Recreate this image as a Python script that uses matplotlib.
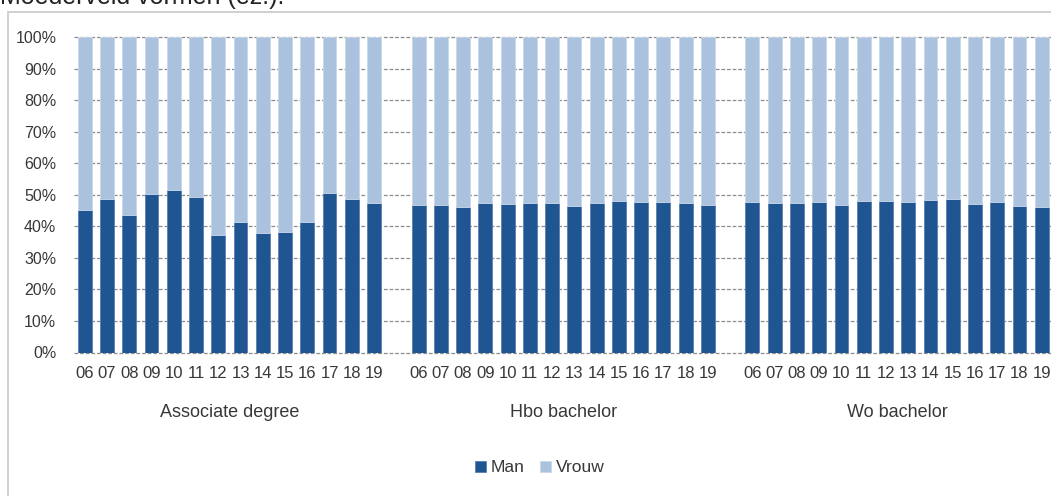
import matplotlib
matplotlib.use("Agg")
import matplotlib.pyplot as plt
import numpy as np
from matplotlib.ticker import PercentFormatter
from matplotlib.patches import Rectangle

# ---- data ----
years = ['06', '07', '08', '09', '10', '11', '12', '13', '14', '15', '16', '17', '18', '19']
groups = ['Associate degree', 'Hbo bachelor', 'Wo bachelor']
man_ad = [45.2, 48.7, 43.7, 50.2, 51.5, 49.3, 37.4, 41.5, 38.0, 38.2, 41.3, 50.6, 48.8, 47.5]
man_hbo = [46.7, 46.6, 46.1, 47.3, 47.0, 47.5, 47.3, 46.3, 47.3, 48.0, 47.7, 47.8, 47.3, 46.6]
man_wo = [47.8, 47.5, 47.5, 47.6, 46.9, 48.0, 48.0, 47.7, 48.4, 48.7, 47.2, 47.7, 46.3, 46.0]
series_names = ['Man', 'Vrouw']
header_text = 'Moederveld vormen (ez.).'

# ---- style ----
plt.rcParams['font.family'] = ['Liberation Sans', 'DejaVu Sans']
c_man = '#1F5591'
c_vrouw = '#ABC2DF'
txt = '#383838'

W, H = 1051, 496
fig = plt.figure(figsize=(W / 100, H / 100), dpi=100)

# outer chart frame
fig.patches.append(Rectangle((8 / W, -0.1), 1.2, (1 - 12 / H) + 0.1,
                             transform=fig.transFigure, fill=False,
                             edgecolor='#C8C8C8', linewidth=1.2))
# header text (partly clipped at top, as in the source)
fig.text(0.0, 1 - 4 / H, header_text, fontsize=18, color='#222222',
         ha='left', va='baseline')

ax_left = 73.7
ax_right = 1052.8
ax_top = 37
ax_bot = 352.5
ax = fig.add_axes([ax_left / W, 1 - ax_bot / H, (ax_right - ax_left) / W, (ax_bot - ax_top) / H])

man_all = [man_ad, man_hbo, man_wo]
positions = []
labels = []
bw = 0.62
for gi, man in enumerate(man_all):
    x = np.arange(len(years)) + gi * (len(years) + 1)
    man = np.array(man)
    vrouw = 100 - man
    ax.bar(x, man, width=bw, color=c_man, edgecolor='#5A7FB2', linewidth=0.6,
           label=series_names[0] if gi == 0 else None, zorder=3)
    ax.bar(x, vrouw, bottom=man, width=bw, color=c_vrouw, edgecolor='#C9D7EA', linewidth=0.6,
           label=series_names[1] if gi == 0 else None, zorder=3)
    positions.extend(x)
    labels.extend(years)
    ax.text(x.mean(), -0.1886, groups[gi], transform=ax.get_xaxis_transform(),
            ha='center', va='center', fontsize=13, color=txt)

ax.set_xlim(-0.5, 3 * len(years) + 2 - 0.5)
ax.set_ylim(0, 100)
ax.set_xticks(positions)
ax.set_xticklabels(labels)
ax.set_yticks(np.arange(0, 101, 10))
ax.yaxis.set_major_formatter(PercentFormatter(100, decimals=0))
ax.tick_params(axis='x', length=0, pad=9.5, labelsize=12, colors=txt)
ax.tick_params(axis='y', length=0, pad=12.5, labelsize=11.5, colors=txt)
for s in ax.spines.values():
    s.set_visible(False)
ax.grid(axis='y', color='#8C8C8C', linestyle=(0, (3, 1.5)), linewidth=0.9, zorder=0)
ax.set_axisbelow(True)
for gl in ax.get_ygridlines():
    gl.set_clip_on(False)

handles, lbls = ax.get_legend_handles_labels()
fig.legend(handles, lbls, loc='center', bbox_to_anchor=(540 / W, 1 - 468 / H),
           ncol=2, frameon=False, fontsize=12.5, handlelength=0.62, handleheight=0.62,
           handletextpad=0.3, columnspacing=0.9, labelcolor=txt)

fig.savefig('out.png', dpi=100)
